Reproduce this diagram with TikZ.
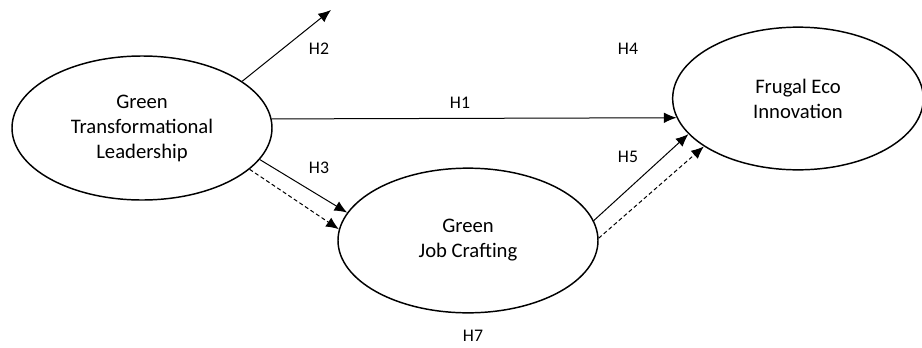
\documentclass[tikz,border=0pt]{standalone}
\usepackage{fontspec}
\setmainfont{Carlito}
\usetikzlibrary{shapes.geometric,arrows.meta}
\begin{document}
\begin{tikzpicture}[x=0.75pt,y=-0.75pt,
  construct/.style={ellipse,draw,line width=1.1pt,inner sep=0pt,align=center,
    font=\fontsize{15.5}{18.75}\selectfont},
  solidarrow/.style={line width=0.75pt,-{Latex[length=9.5pt,width=8pt]}},
  dasharrow/.style={solidarrow,dash pattern=on 3pt off 2pt},
  hlabel/.style={font=\fontsize{13.3}{16}\selectfont,inner sep=0pt}]
\useasboundingbox (0,0) rectangle (922,347);
\node[construct,minimum width=195pt,minimum height=108pt] (gtl) at (142,128) {Green\\Transformational\\Leadership};
\node[construct,minimum width=195pt,minimum height=108.5pt] (gjc) at (468,240.5) {Green\\Job Crafting};
\node[construct,minimum width=188pt,minimum height=107pt] (fei) at (798,98.5) {Frugal Eco\\Innovation};
\coordinate (h2end) at (331,10);
\draw[solidarrow] (gtl.25) -- (h2end);
\draw[solidarrow] (gtl.4) -- (fei.189);
\draw[solidarrow] (gtl.-15.7) -- (gjc.167.7);
\draw[dasharrow] (gtl.-21.4) -- (gjc.175.4);
\draw[solidarrow] (gjc.9.9) -- (fei.198.4);
\draw[dasharrow] (gjc.1.5) -- (fei.207);
\node[hlabel] (lh2) at (319,49) {H2};
\node[hlabel] (lh4) at (628,49) {H4};
\node[hlabel] (lh1) at (460,103) {H1};
\node[hlabel] (lh3) at (319,168) {H3};
\node[hlabel] (lh5) at (628,157) {H5};
\node[hlabel] (lh7) at (473,336) {H7};
\end{tikzpicture}
\end{document}
